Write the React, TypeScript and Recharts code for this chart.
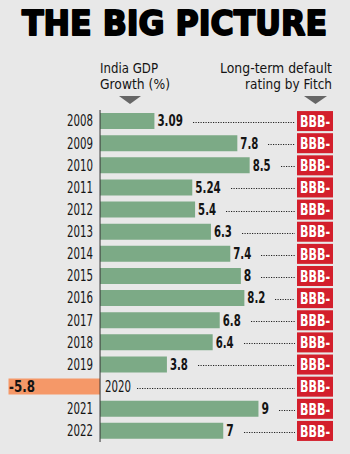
import React from 'react'
import { Bar, BarChart, Cell, ReferenceLine, XAxis, YAxis } from 'recharts'

// India GDP growth vs Fitch long-term rating, 2008–2022.

const years = ['2008', '2009', '2010', '2011', '2012', '2013', '2014', '2015', '2016', '2017', '2018', '2019', '2020', '2021', '2022']
const growth = [3.09, 7.8, 8.5, 5.24, 5.4, 6.3, 7.4, 8, 8.2, 6.8, 6.4, 3.8, -5.8, 9, 7]
const ratings = ['BBB-', 'BBB-', 'BBB-', 'BBB-', 'BBB-', 'BBB-', 'BBB-', 'BBB-', 'BBB-', 'BBB-', 'BBB-', 'BBB-', 'BBB-', 'BBB-', 'BBB-']

const data = years.map((year, i) => ({ year, growth: growth[i], rating: ratings[i] }))

const BG = '#e8e8e8'
const GREEN = '#7caa86'
const ORANGE = '#f59868'
const RED = '#d31f2c'
const INK = '#141414'
const FONT = "'DejaVu Sans', sans-serif"
const LEADER_END = 295

// rough widths of the condensed face in the reference, per character
function textWidth(s: string, digit: number, dot: number) {
  let w = 0
  for (const ch of s) w += ch === '.' ? dot : digit
  return w
}

// squeezed text so the wide fallback font matches the narrow original
function NText({ x, y, w, anchor = 'start', size, weight = 400, fill = INK, children }: any) {
  return (
    <text
      x={x}
      y={y}
      dy="0.36em"
      textAnchor={anchor}
      textLength={w}
      lengthAdjust="spacingAndGlyphs"
      fontFamily={FONT}
      fontSize={size}
      fontWeight={weight}
      fill={fill}
    >
      {children}
    </text>
  )
}

function Leader({ from, cy }: { from: number; cy: number }) {
  const ly = Math.round(cy) + 0.5
  return (
    <line
      x1={Math.round(from)}
      x2={LEADER_END}
      y1={ly}
      y2={ly}
      stroke="#222"
      strokeWidth={1}
      strokeDasharray="1.2 1.3"
    />
  )
}

function RowLabels(props: any) {
  const { x, y, width, height, index } = props
  const bx = Number(x)
  const by = Number(y)
  const bw = Number(width)
  const bh = Number(height)
  const value = growth[index]
  const left = Math.min(bx, bx + bw)
  const right = Math.max(bx, bx + bw)
  const cy = by + bh / 2
  const year = years[index]

  if (value < 0) {
    // negative row: value inside bar, year label on the right of the axis
    const yearX = right + 5
    const yearW = textWidth(year, 6.5, 3)
    return (
      <g>
        <NText x={9} y={cy} w={26} size={15} weight={700}>{String(value)}</NText>
        <NText x={yearX} y={cy} w={yearW} size={15}>{year}</NText>
        <Leader from={yearX + yearW + 6} cy={cy + 1} />
      </g>
    )
  }

  const label = String(value)
  const labelX = right + 3
  const labelW = textWidth(label, 7.5, 3)
  return (
    <g>
      <NText x={left - 7} y={cy} w={textWidth(year, 6.5, 3)} anchor="end" size={15}>{year}</NText>
      <NText x={labelX} y={cy} w={labelW} size={15} weight={700}>{label}</NText>
      <Leader from={labelX + labelW + 10} cy={cy + 1} />
    </g>
  )
}

function RatingTick(props: any) {
  const { y, index } = props
  return (
    <g>
      <rect x={297} y={y - 10} width={36} height={20} fill={RED} />
      <NText x={315} y={y} w={30} anchor="middle" size={16} weight={700} fill="#ffffff">
        {ratings[index]}
      </NText>
    </g>
  )
}

export default function App() {
  return (
    <div style={{ position: 'absolute', left: 0, top: 0, width: 350, height: 454, background: BG, overflow: 'hidden' }}>
      <svg width={350} height={110} style={{ position: 'absolute', left: 0, top: 0 }}>
        <text
          x={22}
          y={35}
          textLength={305}
          lengthAdjust="spacingAndGlyphs"
          fontFamily={FONT}
          fontWeight={900}
          fontSize={34}
          fill="#000"
          stroke="#000"
          strokeWidth={1.9}
          strokeLinejoin="round"
        >
          THE BIG PICTURE
        </text>
        <NText x={100} y={68} w={58} size={14}>India GDP</NText>
        <NText x={100} y={84} w={70} size={14}>Growth (%)</NText>
        <NText x={332} y={68} w={112} anchor="end" size={14}>Long-term default</NText>
        <NText x={332} y={84} w={87} anchor="end" size={14}>rating by Fitch</NText>
        <polygon points="119,96 141,96 130,104" fill="#666" />
        <polygon points="304,96 327,96 315.5,104" fill="#666" />
      </svg>
      <div style={{ position: 'absolute', left: 0, top: 0 }}>
        <BarChart
          width={350}
          height={454}
          data={data}
          layout="vertical"
          margin={{ top: 110, right: 0, left: 8.5, bottom: 12 }}
        >
          <XAxis type="number" domain={[-5.2, 11.15]} allowDataOverflow hide />
          <YAxis yAxisId="left" type="category" dataKey="year" hide />
          <YAxis
            yAxisId="right"
            orientation="right"
            type="category"
            dataKey="year"
            width={53.7}
            axisLine={false}
            tickLine={false}
            tick={<RatingTick />}
            interval={0}
          />
          <Bar dataKey="growth" yAxisId="left" barSize={16} isAnimationActive={false} label={<RowLabels />}>
            {data.map((d) => (
              <Cell key={d.year} fill={d.growth < 0 ? ORANGE : GREEN} />
            ))}
          </Bar>
          <ReferenceLine yAxisId="left" x={0} stroke="#333" strokeWidth={1} />
        </BarChart>
      </div>
    </div>
  )
}
